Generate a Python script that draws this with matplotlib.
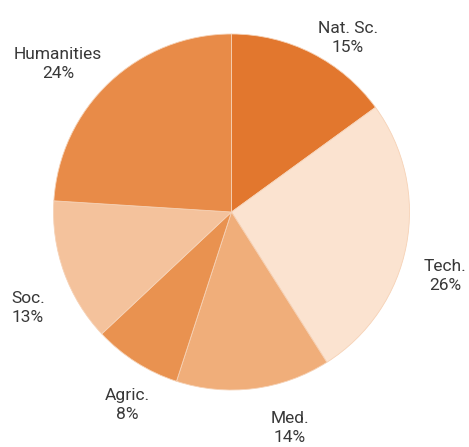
import matplotlib
matplotlib.use("Agg")
import matplotlib.pyplot as plt

# ===== Data =====
fields = ["Nat. Sc.", "Tech.", "Med.", "Agric.", "Soc.", "Humanities"]
shares = [15, 26, 14, 8, 13, 24]
colors = ["#E2772E", "#FBE3D0", "#F0AE7A", "#E99250", "#F4C29C", "#E88B48"]

# label centres in pie units (radius = 1)
label_x = [0.654, 1.199, 0.329, -0.587, -1.143, -0.975]
label_y = [0.978, -0.360, -1.213, -1.084, -0.539, 0.831]

plt.rcParams["font.family"] = ["Roboto", "DejaVu Sans"]

fig = plt.figure(figsize=(4.69, 4.47), dpi=100)
ax = fig.add_axes([0, 0, 1, 1])

ax.pie(
    shares,
    colors=colors,
    startangle=90,
    counterclock=False,
    radius=1.0,
    wedgeprops={"linewidth": 0.6, "edgecolor": "#F6D2B6"},
)

for name, share, x, y in zip(fields, shares, label_x, label_y):
    ax.text(x, y, f"{name}\n{share}%", ha="center", va="center",
            fontsize=12.5, color="#383838", linespacing=1.28)

# place pie centre at (231.5, 212) px with radius 178 px
scale = 178.0
ax.set_xlim(-231.5 / scale, (469 - 231.5) / scale)
ax.set_ylim(-(447 - 212) / scale, 212 / scale)
ax.set_aspect("auto")
ax.axis("off")

fig.savefig("out.png", dpi=100)
